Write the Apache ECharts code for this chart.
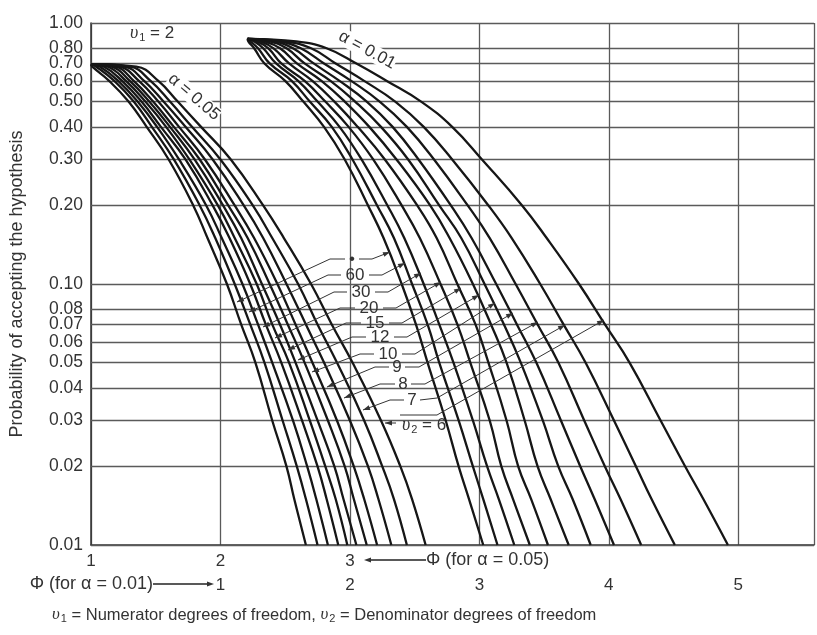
<!DOCTYPE html>
<html><head><meta charset="utf-8">
<script src="https://cdn.jsdelivr.net/npm/echarts@6/dist/echarts.min.js"></script>
<style>html,body{margin:0;padding:0;background:#fff}#c{width:817px;height:635px}</style>
</head><body><div id="c"></div>
<script>
// Probability levels (y axis ticks / gridlines)
const yTicks = [0.01,0.02,0.03,0.04,0.05,0.06,0.07,0.08,0.10,0.20,0.30,0.40,0.50,0.60,0.70,0.80,1.00];
// Denominator degrees of freedom (curve order, left to right)
const nu2Labels = ['∞','60','30','20','15','12','10','9','8','7','6'];

// alpha = 0.05 family: probability levels and Phi (alpha=0.05 scale) for each curve
const p05 = [0.695,0.68,0.6,0.5,0.4,0.3,0.2,0.15,0.1,0.07,0.05,0.03,0.02,0.015,0.01];
const phi05 = [
  [1.00,1.01,1.14,1.29,1.43,1.60,1.79,1.90,2.05,2.16,2.27,2.40,2.51,2.57,2.66],
  [1.00,1.04,1.18,1.33,1.47,1.64,1.84,1.96,2.11,2.23,2.34,2.48,2.59,2.66,2.75],
  [1.00,1.07,1.21,1.36,1.51,1.68,1.89,2.01,2.17,2.29,2.40,2.56,2.67,2.74,2.83],
  [1.00,1.10,1.24,1.39,1.54,1.73,1.94,2.07,2.23,2.35,2.47,2.63,2.75,2.82,2.91],
  [1.00,1.13,1.27,1.42,1.58,1.76,1.98,2.11,2.28,2.40,2.53,2.69,2.81,2.89,2.98],
  [1.00,1.16,1.30,1.45,1.61,1.80,2.02,2.16,2.32,2.46,2.58,2.75,2.88,2.95,3.05],
  [1.00,1.19,1.33,1.48,1.64,1.84,2.06,2.21,2.38,2.52,2.65,2.83,2.96,3.03,3.13],
  [1.00,1.22,1.37,1.52,1.68,1.88,2.11,2.26,2.44,2.58,2.71,2.90,3.03,3.11,3.21],
  [1.00,1.26,1.41,1.56,1.73,1.94,2.18,2.33,2.51,2.66,2.80,3.00,3.14,3.22,3.32],
  [1.00,1.30,1.46,1.61,1.78,2.00,2.25,2.40,2.60,2.75,2.90,3.11,3.25,3.34,3.44],
  [1.00,1.35,1.52,1.67,1.85,2.08,2.33,2.49,2.70,2.86,3.02,3.24,3.39,3.48,3.585]
];

// alpha = 0.01 family: probability levels and Phi (alpha=0.01 scale)
const p01 = [0.87,0.85,0.8,0.7,0.6,0.5,0.4,0.3,0.2,0.15,0.1,0.07,0.05,0.03,0.02,0.015,0.01];
const phi01 = [
  [1.21,1.215,1.26,1.34,1.50,1.64,1.80,1.96,2.14,2.26,2.40,2.51,2.60,2.74,2.84,2.92,3.03],
  [1.21,1.23,1.29,1.38,1.55,1.69,1.86,2.02,2.21,2.34,2.48,2.60,2.69,2.84,2.95,3.03,3.14],
  [1.21,1.26,1.33,1.43,1.60,1.75,1.92,2.09,2.29,2.42,2.57,2.69,2.80,2.95,3.06,3.15,3.27],
  [1.21,1.28,1.37,1.47,1.65,1.81,1.99,2.18,2.40,2.54,2.70,2.83,2.93,3.08,3.17,3.26,3.39],
  [1.21,1.31,1.41,1.53,1.71,1.88,2.06,2.27,2.52,2.67,2.83,2.97,3.07,3.21,3.30,3.40,3.53],
  [1.21,1.34,1.46,1.59,1.78,1.96,2.15,2.36,2.62,2.77,2.95,3.09,3.21,3.35,3.45,3.55,3.69],
  [1.21,1.38,1.51,1.65,1.85,2.04,2.24,2.45,2.69,2.86,3.04,3.19,3.32,3.49,3.61,3.72,3.86],
  [1.21,1.41,1.56,1.72,1.92,2.13,2.33,2.53,2.78,2.94,3.13,3.29,3.44,3.63,3.78,3.89,4.04],
  [1.21,1.45,1.62,1.80,2.01,2.23,2.44,2.65,2.91,3.08,3.28,3.45,3.61,3.81,3.97,4.09,4.25],
  [1.21,1.50,1.70,1.89,2.11,2.35,2.57,2.79,3.07,3.25,3.47,3.65,3.82,4.04,4.21,4.33,4.51],
  [1.21,1.585,1.82,2.05,2.285,2.55,2.79,3.02,3.33,3.52,3.77,3.97,4.16,4.40,4.59,4.73,4.92]
];

const xTicks05 = [1,2,3];
const xTicks01 = [1,2,3,4,5];

const chart = echarts.init(document.getElementById('c'), null, {renderer:'canvas'});
const FONT = 'Liberation Sans, Arial, sans-serif';
const LINE = '#161616';
const GRID = '#5a5a5a';
const TXT = '#333';

const series = [];
phi05.forEach((row,i)=>{
  series.push({type:'line', name:'a05_'+nu2Labels[i], xAxisIndex:0, yAxisIndex:0,
    data: row.map((x,j)=>[x,p05[j]]), smooth:0.45, showSymbol:false,
    lineStyle:{color:LINE,width:2.3}, silent:true, animation:false, z:5});
});
phi01.forEach((row,i)=>{
  series.push({type:'line', name:'a01_'+nu2Labels[i], xAxisIndex:1, yAxisIndex:0,
    data: row.map((x,j)=>[x,p01[j]]), smooth:0.45, showSymbol:false,
    lineStyle:{color:LINE,width:2.3}, silent:true, animation:false, z:5});
});
// horizontal gridlines
series.push({type:'line', data:[], xAxisIndex:0, yAxisIndex:0, silent:true, animation:false,
  markLine:{silent:true, symbol:'none', animation:false, label:{show:false},
    lineStyle:{color:GRID,width:1.3,type:'solid'},
    data: yTicks.map(v=>({yAxis:v}))}});

// leader annotations (pixel positions of labels, knees and arrow tips)
const leaders = [
  {t:'•', x:352, y:259, L:[[345,259],[330,259],[237,302]], R:[[359,259],[372,259],[390,252]]},
  {t:'60',x:355, y:275, L:[[341,275],[328,275],[249,312]], R:[[369,275],[382,275],[405,263]]},
  {t:'30',x:361, y:292, L:[[347,292],[334,292],[263,327]], R:[[375,292],[388,292],[421,273]]},
  {t:'20',x:369, y:308, L:[[355,308],[340,308],[275,338]], R:[[383,308],[396,308],[441,282]]},
  {t:'15',x:375, y:323, L:[[361,323],[346,323],[288,350]], R:[[389,323],[402,323],[461,288]]},
  {t:'12',x:380, y:337, L:[[366,337],[352,337],[298,360]], R:[[394,337],[407,337],[479,295]]},
  {t:'10',x:388, y:354, L:[[374,354],[360,354],[312,372]], R:[[402,354],[415,354],[495,303]]},
  {t:'9', x:397, y:367, L:[[389,367],[375,367],[327,387]], R:[[405,367],[419,367],[513,313]]},
  {t:'8', x:403, y:384, L:[[395,384],[380,384],[344,398]], R:[[411,384],[425,384],[538,322]]},
  {t:'7', x:412, y:400, L:[[404,400],[390,400],[363,410]], R:[[420,400],[437,398],[565,325]]},
  {t:'', x:0, y:0, L:[[396,423],[385,423]], R:[[400,415],[437,415],[604,320]]}
];
const graphics = [];
function arrowHead(p0,p1){
  const dx=p1[0]-p0[0], dy=p1[1]-p0[1], len=Math.hypot(dx,dy), ux=dx/len, uy=dy/len;
  const L=7, W=2.5;
  const bx=p1[0]-ux*L, by=p1[1]-uy*L;
  return {type:'polygon', shape:{points:[[p1[0],p1[1]],[bx-uy*W,by+ux*W],[bx+uy*W,by-ux*W]]}, style:{fill:'#333'}, silent:true, z:20};
}
leaders.forEach(l=>{
  [l.L,l.R].forEach(pts=>{
    graphics.push({type:'polyline', shape:{points:pts}, style:{stroke:'#333', lineWidth:1, fill:null}, silent:true, z:20});
    graphics.push(arrowHead(pts[pts.length-2], pts[pts.length-1]));
  });
  if(l.t) graphics.push({type:'text', x:l.x, y:l.y, style:{text:l.t, font:'17px '+FONT, fill:TXT, align:'center', verticalAlign:'middle'}, z:20});
});
const rich = {
  n:{font:'17px '+FONT, fill:TXT},
  v:{font:'italic 18px Liberation Serif, serif', fill:TXT},
  s:{font:'11px '+FONT, fill:TXT, padding:[9,0,0,1]}
};
graphics.push({type:'text', x:424, y:425, style:{text:'{v|υ}{s|2}{n| = 6}', rich, align:'center', verticalAlign:'middle'}, z:20});
graphics.push({type:'text', x:152, y:33, style:{text:'{v|υ}{s|1}{n| = 2}', rich, align:'center', verticalAlign:'middle'}, z:20});
graphics.push({type:'text', x:194, y:97, rotation:-0.71, style:{text:'α = 0.05', font:'17px '+FONT, fill:TXT, align:'center', verticalAlign:'middle', backgroundColor:'#fff'}, z:15});
graphics.push({type:'text', x:367, y:50, rotation:-0.50, style:{text:'α = 0.01', font:'17px '+FONT, fill:TXT, align:'center', verticalAlign:'middle', backgroundColor:'#fff'}, z:15});
// axis caption arrows
graphics.push({type:'text', x:426, y:560, style:{text:'Φ (for α = 0.05)', font:'18px '+FONT, fill:TXT, align:'left', verticalAlign:'middle'}, z:20});
graphics.push({type:'line', shape:{x1:367,y1:560,x2:426,y2:560}, style:{stroke:'#222',lineWidth:1.5}, z:20});
graphics.push(arrowHead([400,560],[364,560]));
graphics.push({type:'text', x:153, y:584, style:{text:'Φ (for α = 0.01)', font:'18px '+FONT, fill:TXT, align:'right', verticalAlign:'middle'}, z:20});
graphics.push({type:'line', shape:{x1:153,y1:584,x2:210,y2:584}, style:{stroke:'#222',lineWidth:1.5}, z:20});
graphics.push(arrowHead([180,584],[214,584]));
graphics.push({type:'text', x:52, y:615, style:{text:'{v|υ}{s|1}{n| = Numerator degrees of freedom, }{v|υ}{s|2}{n| = Denominator degrees of freedom}', rich:{
  n:{font:'16.5px '+FONT, fill:TXT}, v:{font:'italic 17px Liberation Serif, serif', fill:TXT}, s:{font:'11px '+FONT, fill:TXT, padding:[8,0,0,1]}}, align:'left', verticalAlign:'middle'}, z:20});

chart.setOption({
  animation:false,
  grid:{left:91, right:0, top:23, bottom:90, containLabel:false},
  xAxis:[
    {type:'value', min:1, max:6.585, interval:1, position:'bottom',
      axisLine:{show:true, onZero:false, lineStyle:{color:'#333',width:1.5}}, axisTick:{show:false},
      splitLine:{show:true, lineStyle:{color:GRID,width:1.3}},
      axisLabel:{margin:8, fontSize:17, fontFamily:FONT, color:TXT, formatter:v=> xTicks05.includes(v)? String(v):''}},
    {type:'value', min:0, max:5.585, interval:1, position:'bottom', offset:24,
      axisLine:{show:false}, axisTick:{show:false}, splitLine:{show:false},
      axisLabel:{margin:8, fontSize:17, fontFamily:FONT, color:TXT, formatter:v=> xTicks01.includes(v)? String(v):''}}
  ],
  yAxis:{type:'log', logBase:10, min:0.01, max:1,
    name:'Probability of accepting the hypothesis', nameLocation:'middle', nameGap:65, nameRotate:90,
    nameTextStyle:{fontSize:18, fontFamily:FONT, color:TXT},
    axisLine:{show:true, lineStyle:{color:'#333',width:1.5}}, axisTick:{show:false},
    splitLine:{show:false},
    axisLabel:{customValues:yTicks, margin:8, fontSize:17.5, fontFamily:FONT, color:TXT, formatter:v=>Number(v).toFixed(2)}},
  series,
  graphic: graphics
});
</script></body></html>
